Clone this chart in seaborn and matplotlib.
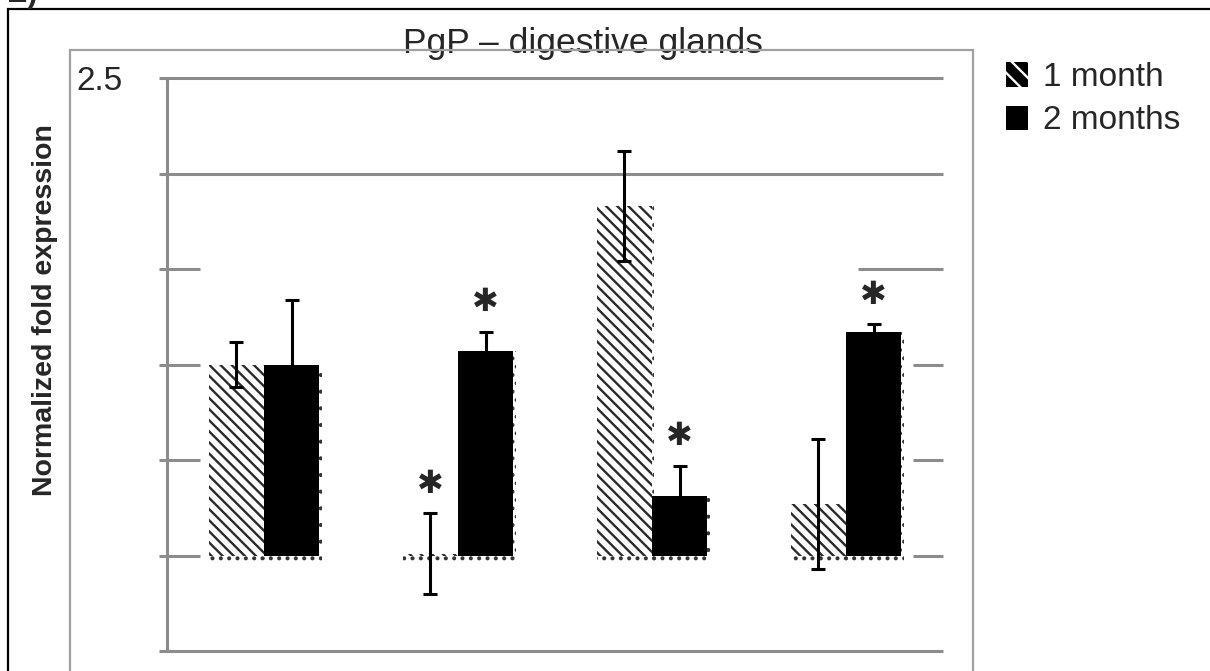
import numpy as np
import pandas as pd
import matplotlib
matplotlib.use("Agg")
import matplotlib.pyplot as plt
import seaborn as sns
from matplotlib.patches import Rectangle, Patch

# ---------------- data ----------------
groups = ["G1", "G2", "G3", "G4"]
periods = ["1 month", "2 months"]
values_1m = [1.00, 0.01, 1.83, 0.27]
errors_1m = [0.12, 0.21, 0.29, 0.34]
values_2m = [1.00, 1.07, 0.31, 1.17]
errors_2m = [0.34, 0.10, 0.16, 0.04]
signif_1m = [False, True, False, False]
signif_2m = [False, True, True, True]
y_ticks = [-0.5, 0.0, 0.5, 1.0, 1.5, 2.0, 2.5]
y_ticklabels = ["", "", "", "", "", "", "2.5"]

df = pd.DataFrame({
    "group": groups * 2,
    "period": [periods[0]] * 4 + [periods[1]] * 4,
    "value": values_1m + values_2m,
})

# ---------------- style ----------------
sns.set_style("white")
plt.rcParams["font.family"] = ["Liberation Sans", "DejaVu Sans"]
plt.rcParams["hatch.linewidth"] = 1.7

W, H = 1210, 671
fig = plt.figure(figsize=(W / 100, H / 100), dpi=100)
ax = fig.add_axes([167 / W, 1 - 651 / H, (943 - 167) / W, (651 - 78) / H])

sns.barplot(data=df, x="group", y="value", hue="period", hue_order=periods,
            order=groups, palette={"1 month": "white", "2 months": "black"},
            width=0.57, errorbar=None, saturation=1, legend=False, ax=ax,
            zorder=3)

ax.set_xlim(-0.5, 3.5)
ax.set_ylim(-0.5, 2.5)

grid_col = "#8c8c8c"
# gridlines (partly hidden as in the original)
full_x = (-0.5, 3.5)
segs = {2.5: [full_x], 2.0: [full_x], -0.5: [full_x],
        1.5: [(-0.5, -0.33), (3.06, 3.5)],
        1.0: [(-0.5, -0.33), (3.345, 3.5)],
        0.5: [(-0.5, -0.33), (3.345, 3.5)],
        0.0: [(-0.5, -0.33), (3.345, 3.5)]}
for yv, parts in segs.items():
    for x0, x1 in parts:
        ax.hlines(yv, x0, x1, colors=grid_col, linewidth=2.2, zorder=1,
                  clip_on=False)

bars_1m = ax.containers[0]
bars_2m = ax.containers[1]

for bars, is_hatched in ((bars_1m, True), (bars_2m, False)):
    for b in bars:
        if is_hatched:
            b.set_hatch("\\\\\\")
            b.set_edgecolor("#2a2a2a")
            b.set_linewidth(0)
        else:
            b.set_edgecolor("black")
            b.set_linewidth(0)
        # dotted "shadow"
        sh = Rectangle((b.get_x(), -0.047), b.get_width() + 0.012,
                       b.get_height() + 0.047, facecolor="none",
                       edgecolor="#333333", hatch="..", linewidth=0,
                       zorder=2)
        ax.add_patch(sh)

for bars, vals, errs, sig in ((bars_1m, values_1m, errors_1m, signif_1m),
                              (bars_2m, values_2m, errors_2m, signif_2m)):
    xs = [b.get_x() + b.get_width() / 2 for b in bars]
    ax.errorbar(xs, vals, yerr=errs, fmt="none", ecolor="black",
                elinewidth=2.2, capsize=4.7, capthick=2.2, zorder=4)
    for x, v, e, s in zip(xs, vals, errs, sig):
        if s:
            ax.annotate("\u2731", (x, v + e), xytext=(0, 21),
                        textcoords="offset points", ha="center",
                        va="center", fontsize=23,
                        family=["DejaVu Sans"], zorder=5)

ax.set_xticks([])
ax.set_xlabel("")
ax.set_ylabel("")
ax.set_yticks(y_ticks)
ax.set_yticklabels(y_ticklabels, fontsize=24)
ax.tick_params(axis="y", length=5.8, width=2.2, color=grid_col,
               direction="out", pad=26, left=True)
for side in ("top", "right", "bottom"):
    ax.spines[side].set_visible(False)
ax.spines["left"].set_color(grid_col)
ax.spines["left"].set_linewidth(2.2)
ax.set_facecolor("none")

fig.text(7 / W, 1 - 2 / H, "E)", fontsize=22, fontweight="bold",
         ha="left", va="baseline")
fig.text(403 / W, 1 - 53 / H, "PgP \u2013 digestive glands", fontsize=25.5,
         ha="left", va="baseline", zorder=0)
fig.text(45 / W, 1 - 310 / H, "Normalized fold expression", fontsize=20.5,
         fontweight="bold", rotation=90, ha="center", va="center")

# frames (drawn over the title, as in the original)
fig.add_artist(Rectangle((70 / W, -0.2), (973 - 70) / W, 1.2 - 50 / H,
                         transform=fig.transFigure, fill=False,
                         edgecolor="#a0a0a0", linewidth=1.6, zorder=2))
fig.add_artist(Rectangle((8 / W, -0.2), 1.2, 1.2 - 9 / H,
                         transform=fig.transFigure, fill=False,
                         edgecolor="black", linewidth=1.6, zorder=2))

handles = [Patch(facecolor="black", edgecolor="white", hatch="\\\\",
                 linewidth=0),
           Patch(facecolor="black", edgecolor="black", linewidth=0)]
fig.legend(handles, periods, loc="upper left",
           bbox_to_anchor=(1006 / W, 1 - 62 / H), frameon=False,
           fontsize=24, handlelength=0.65, handleheight=0.75,
           handletextpad=0.45, labelspacing=0.37, borderpad=0,
           borderaxespad=0)

fig.savefig("out.png", dpi=100)
